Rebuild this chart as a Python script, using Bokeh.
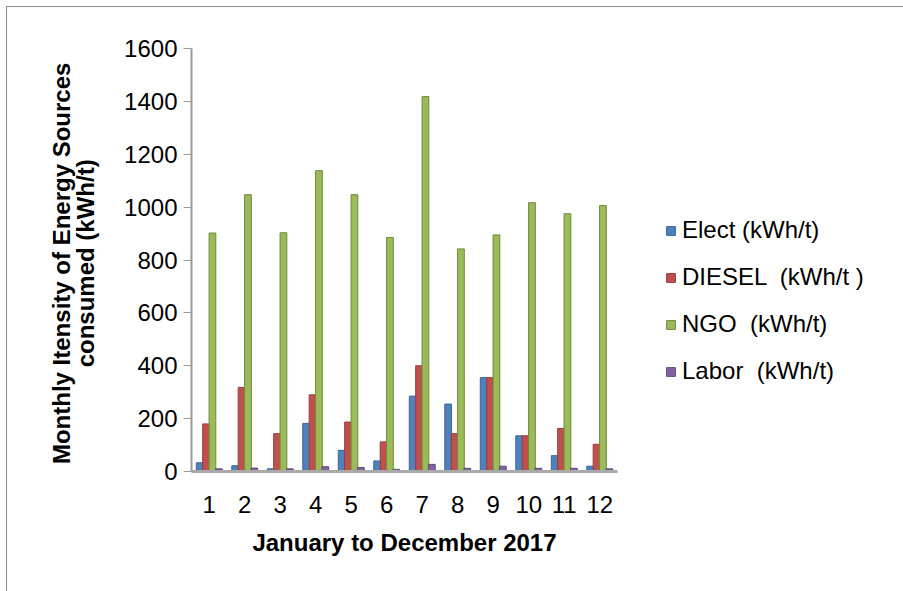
from bokeh.plotting import figure
from bokeh.models import ColumnDataSource, FactorRange, Legend, LegendItem, SingleIntervalTicker
from bokeh.transform import dodge
from bokeh.embed import file_html
from bokeh.resources import INLINE

months = ["1", "2", "3", "4", "5", "6", "7", "8", "9", "10", "11", "12"]
elect = [33, 22, 10, 182, 80, 40, 285, 255, 355, 135, 60, 20]
diesel = [180, 318, 143, 290, 187, 112, 400, 143, 355, 135, 163, 103]
ngo = [902, 1047, 903, 1138, 1047, 885, 1418, 842, 895, 1017, 975, 1006]
labor = [10, 13, 10, 18, 15, 8, 27, 12, 20, 12, 12, 10]
series_names = ["Elect (kWh/t)", "DIESEL  (kWh/t )", "NGO  (kWh/t)", "Labor  (kWh/t)"]
colors = ["#4f81bd", "#c0504d", "#9bbb59", "#8064a2"]
edge_colors = ["#3a6597", "#973d3a", "#6f8a3c", "#5e4a7a"]

source = ColumnDataSource(dict(month=months, elect=elect, diesel=diesel, ngo=ngo, labor=labor))

FONT = "Liberation Sans"

p = figure(
    x_range=FactorRange(*months), y_range=(0, 1600),
    frame_width=426, frame_height=423,
    min_border_left=184, min_border_right=280, min_border_top=41, min_border_bottom=120,
    output_backend="svg", toolbar_location=None,
)
p.styles = {"margin-left": "6px", "margin-top": "6px",
            "border-left": "1px solid #8c8c8c", "border-top": "1px solid #8c8c8c"}

p.outline_line_color = None
p.xgrid.grid_line_color = None
p.ygrid.grid_line_color = None

cols = ["elect", "diesel", "ngo", "labor"]
offsets = [-0.27, -0.09, 0.09, 0.27]
renderers = []
for col, off, c, ec in zip(cols, offsets, colors, edge_colors):
    r = p.vbar(x=dodge("month", off, range=p.x_range), top=col, width=0.19, bottom=0,
               source=source, fill_color=c, line_color=ec, line_width=1)
    renderers.append(r)

# axes
p.yaxis.ticker = SingleIntervalTicker(interval=200)
p.yaxis.axis_label = "Monthly Itensity of  Energy Sources\nconsumed  (kWh/t)"
p.yaxis.axis_label_text_font = FONT
p.yaxis.axis_label_text_font_style = "bold"
p.yaxis.axis_label_text_font_size = "24px"
p.yaxis.axis_label_text_color = "black"
p.yaxis.axis_label_text_line_height = 0.9
p.yaxis.axis_label_standoff = 22
p.yaxis.major_label_text_font = FONT
p.yaxis.major_label_text_font_size = "24px"
p.yaxis.major_label_text_color = "black"
p.yaxis.major_label_standoff = 6
p.yaxis.major_tick_out = 8
p.yaxis.major_tick_in = 0
p.yaxis.minor_tick_line_color = None
p.yaxis.axis_line_color = "#999999"
p.yaxis.axis_line_width = 2
p.yaxis.major_tick_line_color = "#999999"

p.xaxis.axis_label = "January to December 2017"
p.xaxis.axis_label_text_font = FONT
p.xaxis.axis_label_text_font_style = "bold"
p.xaxis.axis_label_text_font_size = "24px"
p.xaxis.axis_label_text_color = "black"
p.xaxis.axis_label_standoff = 13
p.xaxis.major_label_text_font = FONT
p.xaxis.major_label_text_font_size = "24px"
p.xaxis.major_label_text_color = "black"
p.xaxis.major_label_standoff = 18
p.xaxis.major_tick_line_color = None
p.xaxis.axis_line_color = "#aaaaaa"
p.xaxis.axis_line_width = 3

legend = Legend(
    items=[LegendItem(label=n, renderers=[r]) for n, r in zip(series_names, renderers)],
    location=(48, 86),
    label_text_font=FONT, label_text_font_size="24px", label_text_color="black",
    glyph_width=11, glyph_height=11, label_height=20, spacing=19, label_standoff=6,
    padding=0, margin=0, border_line_color=None, background_fill_alpha=0,
)
p.add_layout(legend, "right")

open("out.html", "w").write(file_html(p, INLINE))
